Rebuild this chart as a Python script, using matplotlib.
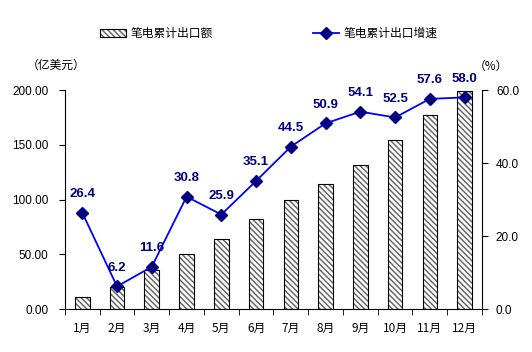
import matplotlib
matplotlib.use("Agg")
from matplotlib import pyplot as plt
import numpy as np

plt.rcParams['font.family'] = ['Liberation Sans', 'Noto Sans CJK SC', 'DejaVu Sans']
plt.rcParams['hatch.linewidth'] = 1.1

months = ['1月', '2月', '3月', '4月', '5月', '6月', '7月', '8月', '9月', '10月', '11月', '12月']
export_value = [10.7, 19.8, 35.3, 50.2, 63.6, 81.9, 99.5, 113.9, 131.2, 154.0, 177.2, 199.0]
growth_rate = [26.4, 6.2, 11.6, 30.8, 25.9, 35.1, 44.5, 50.9, 54.1, 52.5, 57.6, 58.0]

x = np.arange(len(months))

fig = plt.figure(figsize=(5.32, 3.52), dpi=100)
ax = fig.add_axes([0.122, 0.122, 0.784, 0.622])

# gray hatch fill, then black outline on top
bars = ax.bar(x, export_value, width=0.42, color='white', edgecolor='#6a6a6a',
              linewidth=0, hatch='\\\\\\\\\\\\', zorder=2)
outline = ax.bar(x, export_value, width=0.42, color='none', edgecolor='black',
                 linewidth=0.8, zorder=2.1)
ax.set_ylim(0, 200)
ax.set_yticks([0, 50, 100, 150, 200])
ax.set_yticklabels(['{:.2f}'.format(v) for v in [0, 50, 100, 150, 200]], fontsize=8.5)
ax.set_xlim(-0.5, len(months) - 0.5)
ax.set_xticks(x)
ax.set_xticklabels(months, fontsize=8.5, family=['Noto Sans CJK SC'])
ax.set_xticks(np.arange(-0.5, len(months), 1), minor=True)
ax.tick_params(axis='x', which='major', length=0, pad=9)
ax.tick_params(axis='x', which='minor', length=4, direction='out')
ax.tick_params(axis='y', length=4, direction='out', pad=8)
ax.spines['top'].set_visible(False)
ax.spines['right'].set_visible(False)

ax2 = ax.twinx()
line, = ax2.plot(x, growth_rate, color='#0000FF', linewidth=1.3, marker='D',
                 markersize=6.5, markerfacecolor='#000080', markeredgecolor='#000080', zorder=3)
ax2.set_ylim(0, 60)
ax2.set_yticks([0, 20, 40, 60])
ax2.set_yticklabels(['{:.1f}'.format(v) for v in [0, 20, 40, 60]], fontsize=8.5)
ax2.tick_params(axis='y', length=4, direction='out', pad=6)
ax2.spines['top'].set_visible(False)
ax2.spines['left'].set_visible(False)
ax2.spines['bottom'].set_visible(False)

for xi, v in zip(x, growth_rate):
    ax2.annotate('{:.1f}'.format(v), (xi, v), xytext=(0, 9), textcoords='offset points',
                 ha='center', va='bottom', fontsize=9.5, fontweight='bold', color='#000080',
                 annotation_clip=False)

fig.text(0.05, 0.815, '（亿美元）', fontsize=8.5, family=['Noto Sans CJK SC'], va='center')
fig.text(0.89, 0.812, '（%）', fontsize=8.5, family=['Noto Sans CJK SC'], va='center')

fig.legend(handles=[(bars[0], outline[0]), line], labels=['笔电累计出口额', '笔电累计出口增速'],
           loc='center', bbox_to_anchor=(0.505, 0.905), ncol=2,
           frameon=False, prop={'family': 'Noto Sans CJK SC', 'size': 8.5},
           columnspacing=8.5, handlelength=2.2, handletextpad=0.4)

fig.savefig('out.png', dpi=100)
